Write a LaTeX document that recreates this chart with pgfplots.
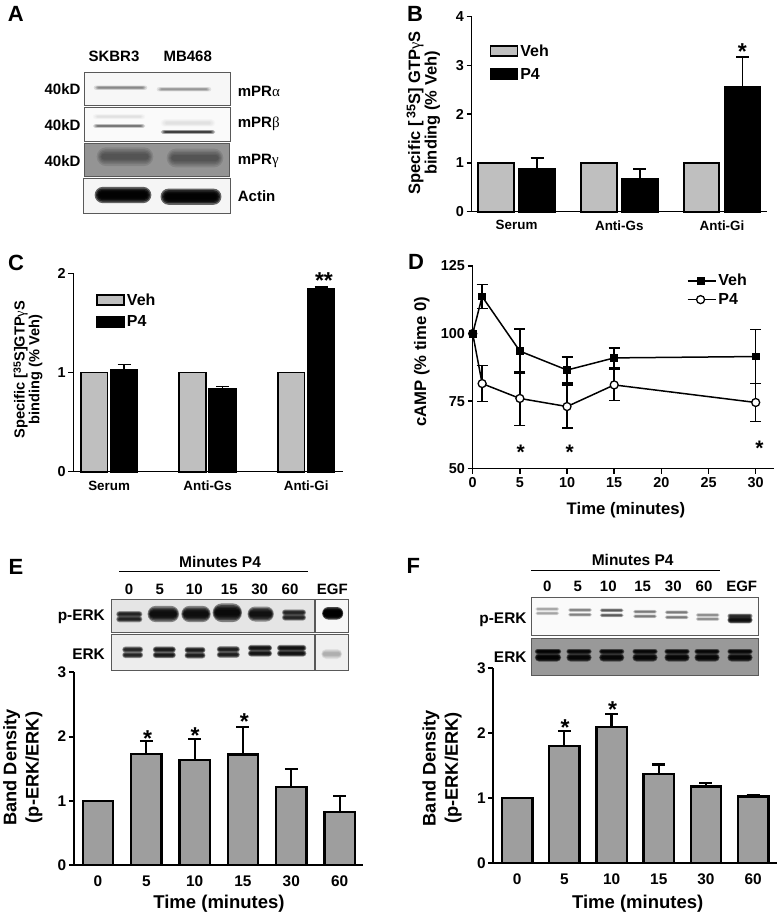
\documentclass[border=0pt]{standalone}
\usepackage{fontspec}
\setmainfont{Liberation Sans}
\newfontfamily\gr{Liberation Serif}
\usepackage{pgfplots}
\pgfplotsset{compat=1.18}
\newcommand{\fs}[1]{\fontsize{#1pt}{#1pt}\selectfont\bfseries}
\newcommand{\band}[5]{%
 \foreach \s in {1.25,1,0.8,0.6,0.4}{%
  \pgfmathsetmacro{\hh}{#4*\s}\pgfmathsetmacro{\ww}{#3*(0.8+0.2*\s)}\pgfmathsetmacro{\rr}{\hh/2}%
  \fill[black,opacity=#5,rounded corners=\rr pt] ({#1-\ww/2},{-#2-\hh/2}) rectangle ({#1+\ww/2},{-#2+\hh/2});}}
\newcommand{\blot}[5]{\fill[black!#5,draw=black!65,line width=0.9pt] (#1,-#2) rectangle (#3,-#4);}
\tikzset{aster/.style={anchor=north,inner sep=0pt,font=\fs{23}}}
\pgfplotsset{
 panel/.style={scale only axis, clip=false, axis lines=left, axis line style={-,line width=#1,black},
   tick align=outside, major tick length=5pt, minor tick num=0, tick style={black,line width=#1},
   /pgf/number format/assume math mode=true},
 ylab/.style n args={3}{every axis y label/.style={at={(axis description cs:#1,#2)},rotate=90,anchor=center,align=center,inner sep=0pt,font=\fontsize{#3pt}{#3pt}\selectfont\bfseries}},
 xlab/.style n args={3}{every axis x label/.style={at={(axis description cs:#1,#2)},anchor=center,inner sep=0pt,font=\fs{#3}}},
 barl/.style 2 args={legend image code/.code={\draw[draw=black,fill=#1,line width=#2] (0pt,-5pt) rectangle (27pt,5pt);}},
 linel/.style={legend image code/.code={\draw[mark repeat=2,mark phase=2,##1] plot coordinates {(0pt,0pt)(13pt,0pt)(28pt,0pt)};}},
 bar/.style 2 args={ybar,bar width=#1,bar shift=0pt,fill=#2,draw=black,line width=1.8pt,
   error bars/.cd,y dir=plus,y explicit,error bar style={line width=1.6pt,black},
   error mark options={rotate=90,mark size=6.5pt,line width=1.6pt,black},/pgfplots/.cd},
 gbar/.style={ybar,bar width=30.4pt,bar shift=0pt,fill=black!38,draw=black,line width=2.3pt,
   error bars/.cd,y dir=plus,y explicit,error bar style={line width=2.2pt,black},
   error mark options={rotate=90,mark size=6.5pt,line width=2.2pt,black},/pgfplots/.cd},
}
\begin{document}
\begin{tikzpicture}[x=1pt,y=1pt]
\useasboundingbox (0,0) rectangle (777,-915);
% panel letters
\foreach \l/\a/\b in {A/15.7/14.3,B/415/14.3,C/16/263.3,D/416/262.3,E/16/566.7,F/413.3/566}{
 \node[font=\fs{22},inner sep=0pt] at (\a,-\b) {\l};}
% panel A
\blot{84}{72}{230.7}{105.3}{3}
\blot{84.3}{107.3}{230}{141.3}{2}
\blot{84.3}{143.3}{229.7}{176}{42}
\blot{83.5}{178.7}{230.7}{213.3}{4}
\band{120.5}{87.7}{51}{3.5}{.11}\band{184}{89.3}{52}{3.5}{.09}
\band{119}{116.7}{50}{4}{.02}\band{119}{126}{50}{3}{.14}\band{188}{123}{52}{6}{.02}\band{188}{132}{52}{3}{.25}
\band{125}{156.7}{54}{15}{.1}\band{195}{158}{54}{15}{.1}
\band{123}{195}{54}{13}{.6}\band{191}{196.7}{58}{13}{.6}
\node[font=\fs{15},inner sep=0pt] at (114,-56) {SKBR3};
\node[font=\fs{15},inner sep=0pt] at (187.7,-56) {MB468};
\foreach \b in {89,125,160.7}{\node[font=\fs{15},inner sep=0pt,anchor=east] at (80.7,-\b) {40kD};}
\node[font=\fs{15},inner sep=0pt,anchor=west] at (237.7,-91.7) {mPR{\mdseries\gr α}};
\node[font=\fs{15},inner sep=0pt,anchor=west] at (237.7,-124) {mPR{\mdseries\gr β}};
\node[font=\fs{15},inner sep=0pt,anchor=west] at (237.7,-160.7) {mPR{\mdseries\gr γ}};
\node[font=\fs{15},inner sep=0pt,anchor=west] at (237.7,-195.7) {Actin};
% panel B
\begin{axis}[panel=1.5pt,at={(471.7pt,-211.7pt)},anchor=south west,width=295pt,height=195pt,
 xmin=-0.437,xmax=2.435,ymin=0,ymax=4,ytick={0,1,2,3,4},xtick={0,1,2},xticklabels={Serum,Anti-Gs,Anti-Gi},
 x tick style={draw=none},xticklabel style={font=\fs{13.4},inner sep=0pt,yshift=-3.5pt},
 yticklabel style={font=\fs{14.4},inner sep=2.5pt},
 ylab={-0.1637}{0.507}{16.5},
 ylabel={Specific [\,\raisebox{0.55ex}{\fontsize{12.5pt}{12.5pt}\selectfont 35}S] GTP{\mdseries\gr γ}S\\binding (\% Veh)},
 legend style={draw=none,fill=none,inner sep=0pt,at={(axis description cs:0.0597,0.869)},anchor=north west,font=\fs{16},row sep=6.5pt,/tikz/every even column/.append style={column sep=6pt}},
 legend cell align=left]
\addplot[bar={35.7pt}{black!25},barl={black!25}{1.8pt}] coordinates {(-0.2,1) (0.8,1) (1.8,1)};
\addlegendentry{Veh}
\addplot[bar={35.7pt}{black},barl={black}{1.8pt}] coordinates {(0.2,0.88)+-(0,0.22) (1.2,0.67)+-(0,0.2) (2.2,2.55)+-(0,0.62)};
\addlegendentry{P4}
\node[aster] at (axis cs:2.199,3.454) {*};
\end{axis}
% panel C
\begin{axis}[panel=1.5pt,at={(73.3pt,-471.7pt)},anchor=south west,width=270pt,height=198.4pt,
 xmin=-0.364,xmax=2.377,ymin=0,ymax=2,ytick={0,1,2},xtick={0,1,2},xticklabels={Serum,Anti-Gs,Anti-Gi},
 x tick style={draw=none},xticklabel style={font=\fs{13.4},inner sep=0pt,yshift=-4pt},
 yticklabel style={font=\fs{14.4},inner sep=2.5pt},
 ylab={-0.1678}{0.515}{14.6},
 ylabel={Specific [\raisebox{0.5ex}{\fontsize{10.5pt}{10.5pt}\selectfont 35}S]GTP{\mdseries\gr γ}S\\binding (\% Veh)},
 legend style={draw=none,fill=none,inner sep=0pt,at={(axis description cs:0.084,0.909)},anchor=north west,font=\fs{16},row sep=5pt,/tikz/every even column/.append style={column sep=4pt}},
 legend cell align=left]
\addplot[bar={26.7pt}{black!25},barl={black!25}{1.8pt}] coordinates {(-0.152,1) (0.848,1) (1.848,1)};
\addlegendentry{Veh}
\addplot[bar={26.7pt}{black},barl={black}{1.8pt}] coordinates {(0.152,1.03)+-(0,0.05) (1.152,0.83)+-(0,0.03) (2.152,1.84)+-(0,0.02)};
\addlegendentry{P4}
\node[aster] at (axis cs:2.181,2.013) {**};
\end{axis}
% panel D
\begin{axis}[panel=1.5pt,at={(472.7pt,-468.7pt)},anchor=south west,width=301.3pt,height=202.7pt,
 xmin=0,xmax=31.94,ymin=50,ymax=125,ytick={50,75,100,125},xtick={0,5,10,15,20,25,30},
 ticklabel style={font=\fs{14.4}},yticklabel style={inner sep=2.5pt},xticklabel style={inner sep=3.5pt},
 xlab={0.5086}{-0.2037}{16.7},xlabel={Time (minutes)},
 ylab={-0.1693}{0.528}{16.7},ylabel={cAMP (\% time 0)},
 reverse legend,
 legend style={draw=none,fill=none,inner sep=0pt,at={(axis description cs:0.71,0.97)},anchor=north west,font=\fs{16},row sep=2pt,/tikz/every even column/.append style={column sep=0pt}},
 legend cell align=left]
\addplot[black,line width=1.5pt,mark=*,mark size=4pt,mark options={fill=white,line width=1.3pt},linel,
 error bars/.cd,y dir=both,y explicit,error bar style={line width=1.5pt,black},error mark options={rotate=90,mark size=5.5pt,line width=1.5pt,black}]
 coordinates {(0,100) (1,81.5)+-(0,6.7) (5,76)+-(0,10) (10,73)+-(0,8) (15,81)+-(0,5.7) (30,74.5)+-(0,7)};
\addlegendentry{P4}
\addplot[black,line width=1.5pt,mark=square*,mark size=3.2pt,linel,
 error bars/.cd,y dir=both,y explicit,error bar style={line width=1.5pt,black},error mark options={rotate=90,mark size=5.5pt,line width=1.5pt,black}]
 coordinates {(0,100) (1,113.7)+-(0,4.5) (5,93.5)+-(0,8.1) (10,86.5)+-(0,4.8) (15,91)+-(0,3.7) (30,91.5)+-(0,10)};
\addlegendentry{Veh}
\node[aster,font=\fs{21}] at (axis cs:5.09,59) {*};
\node[aster,font=\fs{21}] at (axis cs:10.29,59) {*};
\node[aster,font=\fs{21}] at (axis cs:30.4,60.25) {*};
\end{axis}
% panel E blots
\blot{111.3}{599}{314}{632}{10}
\blot{315.7}{599}{348.7}{632}{3}
\blot{111.3}{634.7}{314}{670.3}{7}
\blot{315.7}{634.7}{348.7}{670.3}{6}
\foreach \x/\w/\y/\h/\o in {163.3/30/614/13/.42,196/28/614/13/.42,227.3/28/612.7/15/.45,260.7/25/614/12/.4,332.7/20/613.3/10/.7}{\band{\x}{\y}{\w}{\h}{\o}}
\foreach \x/\w/\y/\o in {129.3/25/616.7/.3,294/23/615/.3}{\band{\x}{\y-2.5}{\w}{5}{\o}\band{\x}{\y+2.5}{\w}{5}{\o}}
\foreach \x/\w/\y/\o in {132.7/20/652.3/.3,164.3/22/652.3/.35,195/20/652.7/.33,228.3/22/652/.33,260/23/650.7/.38,291.7/28/650.7/.4}{\band{\x}{\y-2.7}{\w}{5}{\o}\band{\x}{\y+2.7}{\w}{5}{\o}}
\band{331.7}{654}{20}{8}{.06}
\node[font=\fs{15.4},inner sep=0pt,anchor=east] at (105,-616.7) {p-ERK};
\node[font=\fs{15.4},inner sep=0pt,anchor=east] at (105,-654) {ERK};
\node[font=\fs{15.5},inner sep=0pt] at (220,-561.7) {Minutes P4};
\draw[black,line width=1pt] (119,-571.7) -- (308.3,-571.7);
\foreach \x/\t in {129/0,159.7/5,194.3/10,229.3/15,259.7/30,290/60,332.3/EGF}{\node[font=\fs{15},inner sep=0pt] at (\x,-589.3) {\t};}
% panel E
\begin{axis}[panel=2pt,at={(74pt,-865pt)},anchor=south west,width=289.3pt,height=192.7pt,
 xmin=-0.4966,xmax=5.49,ymin=0,ymax=3,ytick={0,1,2,3},xtick={0,1,2,3,4,5},xticklabels={0,5,10,15,30,60},
 x tick style={draw=none},xticklabel style={font=\fs{15.4},inner sep=0pt,yshift=-5.5pt},
 yticklabel style={font=\fs{15.4},inner sep=2.5pt},
 xlab={0.5012}{-0.2024}{18.5},xlabel={Time (minutes)},
 ylab={-0.1773}{0.506}{18.2},ylabel={Band Density\\[4pt](p-ERK/ERK)}]
\addplot[gbar] coordinates {(0,1) (1,1.73)+-(0,0.2) (2,1.63)+-(0,0.33) (3,1.72)+-(0,0.43) (4,1.21)+-(0,0.29) (5,0.82)+-(0,0.25)};
\node[aster] at (axis cs:1.028,2.10) {*};
\node[aster] at (axis cs:2.007,2.144) {*};
\node[aster] at (axis cs:3.027,2.362) {*};
\end{axis}
% panel F blots
\blot{531}{597.7}{758}{635}{2}
\blot{531}{638.3}{758}{675}{40}
\foreach \x/\u/\l/\o in {547.3/609/613.3/.08,580/610/614.7/.12,611.7/610.3/615.3/.18,645/611.7/616.3/.13,676.7/612.3/617.3/.13,707.7/615/619/.11}{\band{\x}{\u}{23}{3}{\o}\band{\x}{\l}{23}{3}{\o}}
\band{740}{616}{24}{4}{.28}\band{740}{620}{24}{5.5}{.42}
\foreach \x/\w/\o in {548/25/.5,579/24/.45,611.7/24/.45,645/24/.45,677/24/.45,707/24/.45,740/24/.45}{\band{\x}{651.5}{\w}{4}{\o}\band{\x}{657.5}{\w}{6.5}{\o}}
\node[font=\fs{15.4},inner sep=0pt,anchor=east] at (526.7,-619.3) {p-ERK};
\node[font=\fs{15.4},inner sep=0pt,anchor=east] at (526.7,-657.3) {ERK};
\node[font=\fs{15.5},inner sep=0pt] at (632.7,-560) {Minutes P4};
\draw[black,line width=1pt] (531,-570) -- (720,-570);
\foreach \x/\t in {547.3/0,577.7/5,608.3/10,642.7/15,673.3/30,704/60,741.7/EGF}{\node[font=\fs{15},inner sep=0pt] at (\x,-586.7) {\t};}
% panel F
\begin{axis}[panel=2pt,at={(493.3pt,-863.3pt)},anchor=south west,width=283.4pt,height=195pt,
 xmin=-0.506,xmax=5.498,ymin=0,ymax=3,ytick={0,1,2,3},xtick={0,1,2,3,4,5},xticklabels={0,5,10,15,30,60},
 x tick style={draw=none},xticklabel style={font=\fs{15.4},inner sep=0pt,yshift=-5.5pt},
 yticklabel style={font=\fs{15.4},inner sep=2.5pt},
 xlab={0.5095}{-0.2087}{18.5},xlabel={Time (minutes)},
 ylab={-0.181}{0.4887}{18.2},ylabel={Band Density\\[4pt](p-ERK/ERK)}]
\addplot[gbar] coordinates {(0,1) (1,1.8)+-(0,0.23) (2,2.1)+-(0,0.2) (3,1.37)+-(0,0.15) (4,1.18)+-(0,0.06) (5,1.03)+-(0,0.02)};
\node[aster] at (axis cs:1.013,2.215) {*};
\node[aster] at (axis cs:2.023,2.486) {*};
\end{axis}
\end{tikzpicture}
\end{document}
